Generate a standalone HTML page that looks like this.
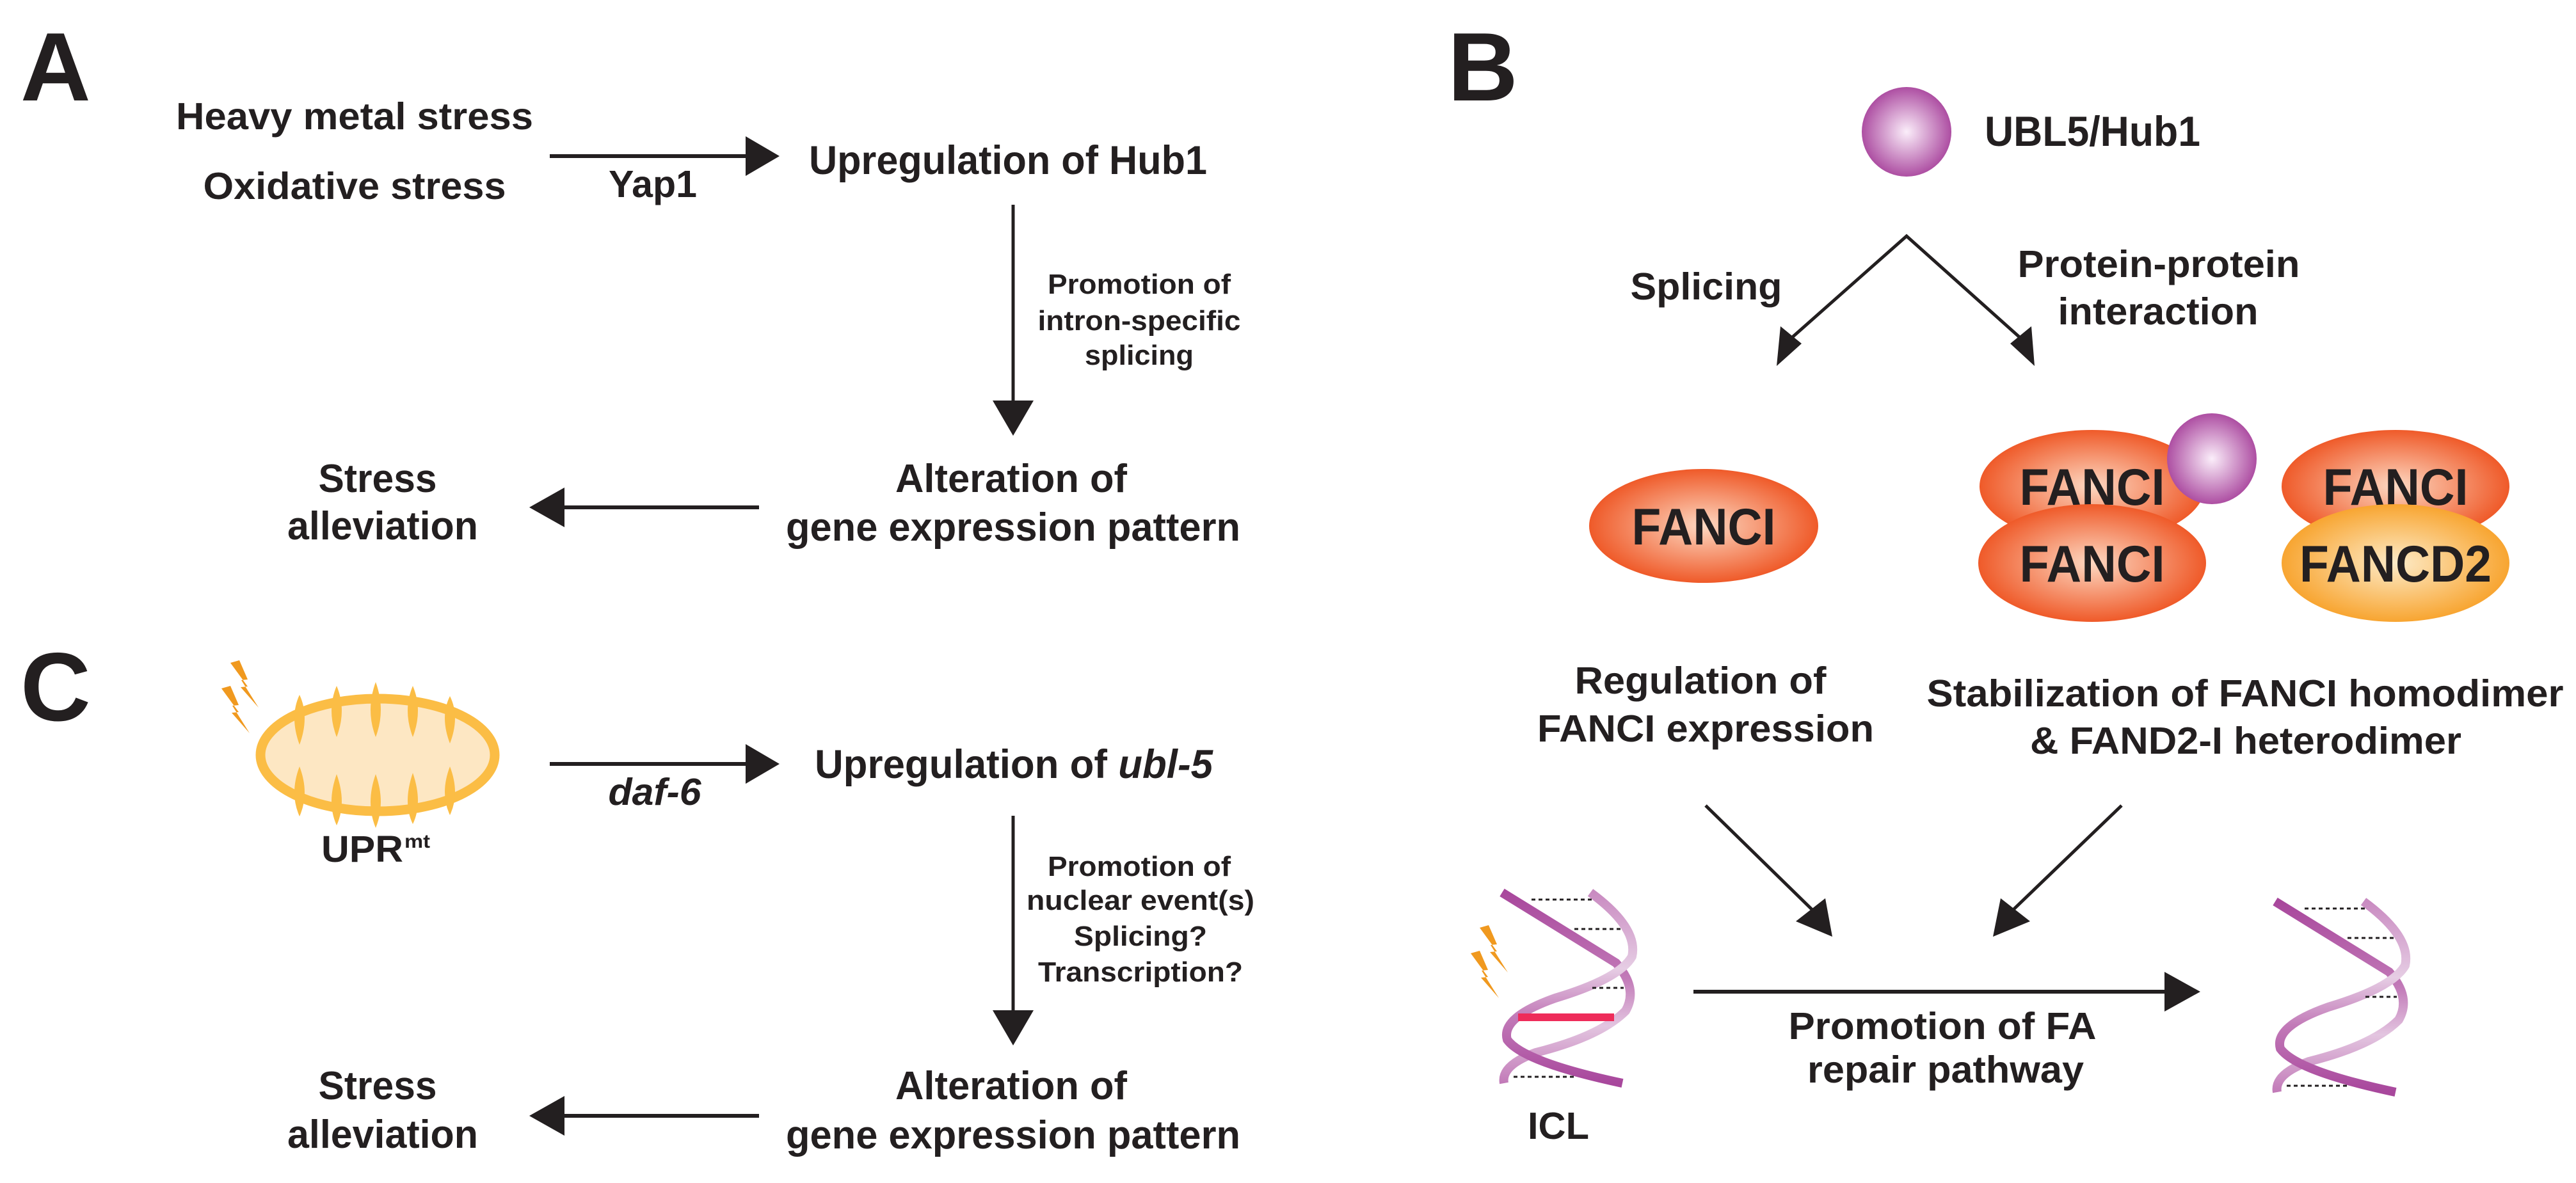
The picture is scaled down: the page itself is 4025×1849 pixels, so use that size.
<!DOCTYPE html>
<html><head><meta charset="utf-8"><style>
html,body{margin:0;padding:0;background:#fff}
svg{display:block}
text{font-family:"Liberation Sans",Arial,sans-serif;font-weight:bold;fill:#231f20}
</style></head><body>
<svg width="4025" height="1849" viewBox="0 0 4025 1849" xmlns="http://www.w3.org/2000/svg">
<defs>
<radialGradient id="pur" cx="0.5" cy="0.5" r="0.5"><stop offset="0" stop-color="#fbeefa"/><stop offset="1" stop-color="#ad4ea2"/></radialGradient>
<radialGradient id="ora" cx="0.5" cy="0.5" r="0.5"><stop offset="0" stop-color="#fdd8c2"/><stop offset="1" stop-color="#ef5a29"/></radialGradient>
<radialGradient id="yel" cx="0.5" cy="0.5" r="0.5"><stop offset="0" stop-color="#fdebc8"/><stop offset="1" stop-color="#f8a531"/></radialGradient>
<linearGradient id="sa" gradientUnits="userSpaceOnUse" x1="0" y1="1395" x2="0" y2="1693"><stop offset="0" stop-color="#a8479c"/><stop offset="0.45" stop-color="#c27ab8"/><stop offset="0.7" stop-color="#e3c5e0"/><stop offset="1" stop-color="#c27ab8"/></linearGradient>
<linearGradient id="sb" gradientUnits="userSpaceOnUse" x1="0" y1="1395" x2="0" y2="1693"><stop offset="0" stop-color="#c98bc1"/><stop offset="0.4" stop-color="#e6cde4"/><stop offset="0.65" stop-color="#c27ab8"/><stop offset="1" stop-color="#a8479c"/></linearGradient>
<g id="dna">
<path d="M2347,1395 L2525,1505 Q2560,1545 2540,1580 Q2500,1620 2400,1645 Q2345,1665 2350,1693" fill="none" stroke="url(#sa)" stroke-width="14"/>
<path d="M2485,1395 Q2560,1450 2550,1495 Q2530,1530 2430,1560 Q2345,1590 2355,1625 Q2380,1660 2535,1693" fill="none" stroke="url(#sb)" stroke-width="14"/>
<g stroke="#231f20" stroke-width="3" stroke-dasharray="6,5">
<line x1="2393" y1="1406" x2="2492" y2="1406"/>
<line x1="2460" y1="1452" x2="2535" y2="1452"/>
<line x1="2488" y1="1544" x2="2537" y2="1544"/>
<line x1="2365" y1="1683" x2="2460" y2="1683"/>
</g>
</g>
<g id="bolt" fill="#f0991f">
<polygon points="0,0 14,-4 27,26 17,27 44,70 16,38 27,37"/>
</g>
</defs>

<!-- Panel A -->
<text x="32" y="157" font-size="152">A</text>
<text x="554" y="202" font-size="59" text-anchor="middle" textLength="558" lengthAdjust="spacingAndGlyphs">Heavy metal stress</text>
<text x="554" y="311" font-size="59" text-anchor="middle" textLength="473" lengthAdjust="spacingAndGlyphs">Oxidative stress</text>
<line x1="859" y1="244" x2="1170" y2="244" stroke="#231f20" stroke-width="6"/>
<polygon points="1165,213 1218,244 1165,275" fill="#231f20"/>
<text x="1020" y="308" font-size="59" text-anchor="middle" textLength="138" lengthAdjust="spacingAndGlyphs">Yap1</text>
<text x="1575" y="272" font-size="63" text-anchor="middle" textLength="622" lengthAdjust="spacingAndGlyphs">Upregulation of Hub1</text>
<line x1="1583" y1="320" x2="1583" y2="630" stroke="#231f20" stroke-width="5"/>
<polygon points="1551,626 1615,626 1583,681" fill="#231f20"/>
<text x="1780" y="459" font-size="44" text-anchor="middle" textLength="286" lengthAdjust="spacingAndGlyphs">Promotion of</text>
<text x="1780" y="516" font-size="44" text-anchor="middle" textLength="317" lengthAdjust="spacingAndGlyphs">intron-specific</text>
<text x="1780" y="570" font-size="44" text-anchor="middle" textLength="170" lengthAdjust="spacingAndGlyphs">splicing</text>
<text x="1580" y="769" font-size="62" text-anchor="middle" textLength="362" lengthAdjust="spacingAndGlyphs">Alteration of</text>
<text x="1583" y="845" font-size="62" text-anchor="middle" textLength="710" lengthAdjust="spacingAndGlyphs">gene expression pattern</text>
<text x="590" y="769" font-size="62" text-anchor="middle" textLength="185" lengthAdjust="spacingAndGlyphs">Stress</text>
<text x="598" y="843" font-size="62" text-anchor="middle" textLength="298" lengthAdjust="spacingAndGlyphs">alleviation</text>
<line x1="878" y1="793" x2="1186" y2="793" stroke="#231f20" stroke-width="6"/>
<polygon points="882,762 827,793 882,824" fill="#231f20"/>

<!-- Panel C -->
<text x="32" y="1126" font-size="152">C</text>
<g transform="translate(360,1036)"><use href="#bolt"/><use href="#bolt" transform="translate(-14,40)"/></g>
<ellipse cx="590" cy="1180" rx="183" ry="88" fill="#fde7c3" stroke="#fbbd45" stroke-width="15"/>
<g fill="#fbbd45">
<path d="M468,1086 Q484,1120 468,1164 Q452,1120 468,1086Z"/>
<path d="M526,1072 Q542,1110 526,1152 Q510,1110 526,1072Z"/>
<path d="M587,1066 Q603,1110 587,1152 Q571,1110 587,1066Z"/>
<path d="M645,1072 Q661,1110 645,1152 Q629,1110 645,1072Z"/>
<path d="M703,1088 Q719,1120 703,1162 Q687,1120 703,1088Z"/>
<path d="M468,1198 Q484,1240 468,1276 Q452,1240 468,1198Z"/>
<path d="M526,1210 Q542,1255 526,1290 Q510,1255 526,1210Z"/>
<path d="M587,1210 Q603,1255 587,1294 Q571,1255 587,1210Z"/>
<path d="M645,1208 Q661,1255 645,1288 Q629,1255 645,1208Z"/>
<path d="M703,1198 Q719,1240 703,1274 Q687,1240 703,1198Z"/>
</g>
<text x="502" y="1347" font-size="58" textLength="128" lengthAdjust="spacingAndGlyphs">UPR</text>
<text x="632" y="1325" font-size="30" textLength="40" lengthAdjust="spacingAndGlyphs">mt</text>
<line x1="859" y1="1194" x2="1170" y2="1194" stroke="#231f20" stroke-width="6"/>
<polygon points="1165,1163 1218,1194 1165,1225" fill="#231f20"/>
<text x="1023" y="1258" font-size="59" font-style="italic" text-anchor="middle" textLength="145" lengthAdjust="spacingAndGlyphs">daf-6</text>
<text x="1584" y="1216" font-size="63" text-anchor="middle" textLength="622" lengthAdjust="spacingAndGlyphs">Upregulation of <tspan font-style="italic">ubl-5</tspan></text>
<line x1="1583" y1="1275" x2="1583" y2="1583" stroke="#231f20" stroke-width="5"/>
<polygon points="1551,1579 1615,1579 1583,1634" fill="#231f20"/>
<text x="1780" y="1369" font-size="44" text-anchor="middle" textLength="286" lengthAdjust="spacingAndGlyphs">Promotion of</text>
<text x="1782" y="1422" font-size="44" text-anchor="middle" textLength="356" lengthAdjust="spacingAndGlyphs">nuclear event(s)</text>
<text x="1782" y="1478" font-size="44" text-anchor="middle" textLength="208" lengthAdjust="spacingAndGlyphs">Splicing?</text>
<text x="1782" y="1534" font-size="44" text-anchor="middle" textLength="320" lengthAdjust="spacingAndGlyphs">Transcription?</text>
<text x="1580" y="1718" font-size="62" text-anchor="middle" textLength="362" lengthAdjust="spacingAndGlyphs">Alteration of</text>
<text x="1583" y="1795" font-size="62" text-anchor="middle" textLength="710" lengthAdjust="spacingAndGlyphs">gene expression pattern</text>
<text x="590" y="1718" font-size="62" text-anchor="middle" textLength="185" lengthAdjust="spacingAndGlyphs">Stress</text>
<text x="598" y="1794" font-size="62" text-anchor="middle" textLength="298" lengthAdjust="spacingAndGlyphs">alleviation</text>
<line x1="878" y1="1744" x2="1186" y2="1744" stroke="#231f20" stroke-width="6"/>
<polygon points="882,1713 827,1744 882,1775" fill="#231f20"/>

<!-- Panel B -->
<text x="2262" y="157" font-size="152">B</text>
<ellipse cx="2979" cy="206" rx="70" ry="70" fill="url(#pur)"/>
<text x="3101" y="228" font-size="66" textLength="337" lengthAdjust="spacingAndGlyphs">UBL5/Hub1</text>
<polyline points="2796,531 2979,369 3160,531" fill="none" stroke="#231f20" stroke-width="5"/>
<polygon points="2776,572 2782,510 2815,537" fill="#231f20"/>
<polygon points="3179,572 3141,537 3174,510" fill="#231f20"/>
<text x="2666" y="468" font-size="59" text-anchor="middle" textLength="237" lengthAdjust="spacingAndGlyphs">Splicing</text>
<text x="3373" y="433" font-size="59" text-anchor="middle" textLength="441" lengthAdjust="spacingAndGlyphs">Protein-protein</text>
<text x="3372" y="507" font-size="59" text-anchor="middle" textLength="313" lengthAdjust="spacingAndGlyphs">interaction</text>

<ellipse cx="2662" cy="822" rx="179" ry="89" fill="url(#ora)"/>
<text x="2662" y="851" font-size="81" text-anchor="middle" textLength="225" lengthAdjust="spacingAndGlyphs">FANCI</text>

<ellipse cx="3269" cy="760" rx="176" ry="88" fill="url(#ora)"/>
<text x="3269" y="789" font-size="81" text-anchor="middle" textLength="227" lengthAdjust="spacingAndGlyphs">FANCI</text>
<ellipse cx="3269" cy="880" rx="178" ry="92" fill="url(#ora)"/>
<text x="3269" y="909" font-size="81" text-anchor="middle" textLength="227" lengthAdjust="spacingAndGlyphs">FANCI</text>
<ellipse cx="3456" cy="717" rx="70" ry="71" fill="url(#pur)"/>

<ellipse cx="3743" cy="760" rx="178" ry="88" fill="url(#ora)"/>
<text x="3743" y="789" font-size="81" text-anchor="middle" textLength="227" lengthAdjust="spacingAndGlyphs">FANCI</text>
<ellipse cx="3743" cy="880" rx="178" ry="92" fill="url(#yel)"/>
<text x="3743" y="909" font-size="81" text-anchor="middle" textLength="300" lengthAdjust="spacingAndGlyphs">FANCD2</text>

<text x="2657" y="1084" font-size="59" text-anchor="middle" textLength="393" lengthAdjust="spacingAndGlyphs">Regulation of</text>
<text x="2665" y="1159" font-size="59" text-anchor="middle" textLength="526" lengthAdjust="spacingAndGlyphs">FANCI expression</text>
<text x="3508" y="1104" font-size="59" text-anchor="middle" textLength="995" lengthAdjust="spacingAndGlyphs">Stabilization of FANCI homodimer</text>
<text x="3509" y="1178" font-size="59" text-anchor="middle" textLength="674" lengthAdjust="spacingAndGlyphs">&amp; FAND2-I heterodimer</text>

<line x1="2665" y1="1259" x2="2845" y2="1435" stroke="#231f20" stroke-width="5"/>
<polygon points="2863,1464 2806,1440 2852,1404" fill="#231f20"/>
<line x1="3315" y1="1259" x2="3132" y2="1435" stroke="#231f20" stroke-width="5"/>
<polygon points="3114,1464 3126,1404 3172,1440" fill="#231f20"/>

<line x1="2646" y1="1550" x2="3390" y2="1550" stroke="#231f20" stroke-width="6"/>
<polygon points="3382,1519 3438,1550 3382,1581" fill="#231f20"/>
<text x="3035" y="1624" font-size="59" text-anchor="middle" textLength="481" lengthAdjust="spacingAndGlyphs">Promotion of FA</text>
<text x="3040" y="1692" font-size="59" text-anchor="middle" textLength="432" lengthAdjust="spacingAndGlyphs">repair pathway</text>
<text x="2435" y="1780" font-size="59" text-anchor="middle" textLength="96" lengthAdjust="spacingAndGlyphs">ICL</text>

<g transform="translate(2312,1450)"><use href="#bolt"/><use href="#bolt" transform="translate(-14,40)"/></g>
<use href="#dna"/>
<rect x="2372" y="1584" width="150" height="12" fill="#ee2c5a"/>
<use href="#dna" transform="translate(1208,14)"/>
</svg>
</body></html>
